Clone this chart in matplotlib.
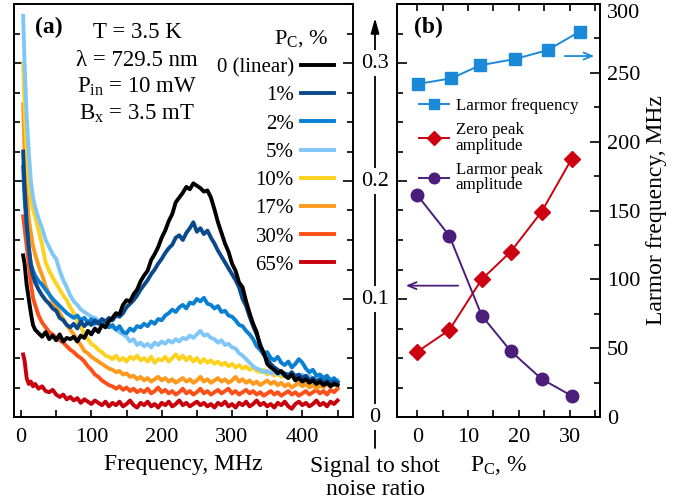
import numpy as np
import matplotlib
matplotlib.use("Agg")
import matplotlib.pyplot as plt
from matplotlib.ticker import MultipleLocator

plt.rcParams['font.family'] = ['Liberation Serif', 'DejaVu Serif']
plt.rcParams['mathtext.fontset'] = 'custom'
plt.rcParams['mathtext.rm'] = 'Liberation Serif'
plt.rcParams['mathtext.it'] = 'Liberation Serif:italic'
plt.rcParams['axes.linewidth'] = 1.4

# ---- panel (a): noise spectra, SNR in units of 1e-3 ----
freq = np.concatenate([[3, 5, 8, 11, 14, 17, 20], np.arange(25, 455, 5)])

snr_0 = [137, 130, 112, 100, 88, 78, 74,
         71, 68, 72, 66, 69, 65, 70, 64, 67, 66,
         68, 64, 69, 67, 73, 70, 75, 72, 78, 76,
         81, 84, 88, 87, 95, 99, 98, 104, 108, 115,
         120, 124, 133, 138, 144, 152, 158, 166, 172, 182,
         186, 190, 195, 193, 198, 196, 194, 191, 192, 186,
         176, 165, 156, 147, 140, 130, 124, 114, 110, 98,
         88, 79, 72, 60, 55, 45, 42, 40, 37, 39,
         35, 33, 36, 31, 33, 30, 32, 29, 31, 28,
         30, 27, 29, 26, 28, 27]
snr_1 = [225, 195, 165, 145, 128, 120, 114,
         108, 103, 99, 96, 92, 90, 84, 82, 78, 76,
         79, 75, 81, 77, 80, 78, 82, 79, 83, 81,
         84, 82, 86, 85, 88, 93, 96, 99, 103, 108,
         112, 116, 121, 125, 130, 134, 139, 143, 146, 152,
         154, 150, 156, 160, 165, 157, 160, 155, 158, 152,
         147, 141, 136, 131, 126, 121, 116, 110, 100, 94,
         85, 77, 70, 62, 53, 49, 45, 42, 40, 38,
         37, 35, 38, 34, 36, 33, 35, 31, 33, 30,
         32, 29, 31, 28, 30, 29]
snr_2 = [212, 185, 160, 142, 130, 124, 120,
         115, 112, 108, 104, 100, 97, 94, 91, 88, 86,
         84, 86, 82, 84, 80, 83, 79, 81, 78, 80,
         76, 78, 74, 77, 72, 71, 75, 73, 77, 76,
         79, 77, 81, 79, 83, 82, 86, 88, 91, 89,
         93, 95, 92, 97, 96, 100, 98, 101, 96, 95,
         92, 94, 89, 90, 86, 85, 82, 78, 77, 73,
         70, 66, 60, 57, 53, 55, 50, 48, 51, 46,
         44, 47, 42, 45, 49, 46, 41, 38, 40, 35,
         36, 33, 35, 31, 33, 30]
snr_5 = [340, 300, 255, 225, 200, 186, 178,
         168, 160, 150, 144, 138, 134, 124, 116, 110, 103,
         98, 95, 91, 89, 87, 85, 84, 82, 80, 79,
         77, 76, 74, 72, 70, 68, 64, 66, 61, 63,
         60, 62, 59, 63, 61, 64, 62, 65, 63, 66,
         64, 67, 66, 69, 67, 70, 73, 69, 70, 67,
         66, 63, 65, 61, 62, 59, 58, 54, 52, 49,
         46, 43, 41, 40, 38, 39, 37, 38, 36, 37,
         35, 37, 35, 36, 34, 36, 33, 35, 32, 34,
         31, 33, 30, 32, 30, 31]
snr_10 = [300, 265, 225, 200, 185, 176, 170,
          158, 146, 131, 124, 118, 113, 108, 103, 99, 93,
          88, 82, 76, 71, 66, 62, 60, 57, 55, 52,
          51, 49, 52, 48, 50, 47, 51, 49, 52, 48,
          50, 47, 51, 46, 49, 48, 51, 47, 50, 53,
          49, 52, 48, 51, 47, 50, 46, 49, 46, 48,
          45, 47, 44, 46, 43, 45, 42, 44, 41, 43,
          40, 42, 39, 38, 40, 36, 38, 35, 37, 34,
          36, 33, 35, 32, 34, 31, 33, 30, 32, 30,
          31, 29, 32, 30, 31, 29]
snr_17 = [265, 225, 190, 168, 156, 145, 138,
          128, 120, 111, 104, 98, 93, 88, 83, 78, 74,
          70, 65, 61, 56, 54, 51, 49, 47, 45, 43,
          41, 40, 38, 39, 36, 37, 34, 35, 32, 34,
          31, 33, 30, 32, 34, 31, 33, 30, 32, 29,
          31, 33, 30, 32, 29, 31, 34, 30, 32, 29,
          31, 33, 30, 32, 29, 31, 34, 30, 32, 29,
          31, 28, 30, 27, 29, 31, 28, 30, 27, 29,
          26, 28, 25, 27, 29, 26, 28, 25, 27, 24,
          27, 25, 28, 26, 28, 26]
snr_30 = [170, 160, 145, 130, 113, 101, 95,
          86, 80, 76, 72, 70, 67, 65, 63, 60, 57,
          55, 52, 50, 47, 43, 40, 36, 34, 31, 29,
          27, 26, 24, 26, 23, 25, 22, 24, 21, 23,
          21, 24, 20, 22, 25, 21, 23, 20, 22, 19,
          21, 24, 20, 22, 19, 21, 24, 20, 22, 19,
          21, 23, 20, 22, 24, 20, 22, 19, 21, 23,
          20, 22, 19, 21, 18, 20, 22, 19, 21, 18,
          20, 22, 19, 21, 18, 20, 22, 19, 21, 23,
          20, 22, 19, 23, 21, 24]
snr_65 = [53, 48, 33, 28, 30, 26, 28,
          24, 26, 22, 21, 23, 19, 17, 19, 15, 17,
          14, 16, 12, 15, 13, 11, 14, 12, 10, 13,
          9, 12, 10, 13, 9, 11, 14, 10, 8, 12,
          10, 13, 9, 11, 8, 12, 10, 13, 9, 11,
          14, 10, 12, 9, 11, 13, 10, 12, 9, 11,
          8, 12, 10, 13, 9, 11, 8, 12, 10, 13,
          9, 11, 14, 10, 12, 9, 11, 8, 12, 10,
          13, 9, 7, 11, 13, 10, 12, 9, 11, 14,
          10, 12, 9, 13, 11, 14]

spectra = [snr_0, snr_1, snr_2, snr_5, snr_10, snr_17, snr_30, snr_65]
spec_labels = ['0 (linear)', '1%', '2%', '5%', '10%', '17%', '30%', '65%']
spec_colors = ['#000000', '#0a4a8c', '#0a80d2', '#80c6f8',
               '#fcd21e', '#fd9a1e', '#fc5018', '#c8000c']

# ---- panel (b) ----
pc_freq = [0.2, 6.7, 12.4, 19.2, 25.7, 32.0]
larmor_freq = [242, 246, 255.5, 260, 266.5, 280]
pc_amp = [0, 6.3, 12.7, 18.4, 24.5, 30.4]
zero_amp = [0.0553, 0.0737, 0.1167, 0.140, 0.174, 0.2186]
larmor_amp = [0.188, 0.1537, 0.0859, 0.0559, 0.0322, 0.018]

snr_ticks = [0, 0.1, 0.2, 0.3]
snr_ticklabels = ['0', '0.1', '0.2', '0.3']
mhz_ticks = [0, 50, 100, 150, 200, 250, 300]

W, H = 689, 501
fig = plt.figure(figsize=(W / 100, H / 100), dpi=100)
bot = (H - 417) / H
hgt = (417 - 4) / H

def style_snr_axis(ax):
    ax.set_ylim(0, 0.35)
    ax.yaxis.set_major_locator(MultipleLocator(0.1))
    ax.yaxis.set_minor_locator(MultipleLocator(0.025))
    ax.tick_params(axis='y', which='major', direction='in', length=7, width=1.2,
                   labelleft=False, labelright=False)
    ax.tick_params(axis='y', which='minor', direction='in', length=4.5, width=1.2)

# panel (a)
ax_a = fig.add_axes([14 / W, bot, (353 - 14) / W, hgt])
handles = []
for vals, lab, col in zip(spectra, spec_labels, spec_colors):
    h, = ax_a.plot(freq, np.array(vals) / 1000.0, color=col, lw=2.8, label=lab)
    handles.append(h)
for h, z in zip(handles, range(len(handles), 0, -1)):
    h.set_zorder(z)
ax_a.set_xlim(-10, 472)
style_snr_axis(ax_a)
ax_a.tick_params(axis='y', which='both', left=True, right=True)
ax_a.xaxis.set_minor_locator(MultipleLocator(50))
ax_a.set_xticks([0, 100, 200, 300, 400])
ax_a.tick_params(axis='x', which='both', direction='in', length=5, width=1.2,
                 labelsize=16, pad=8)
ax_a.set_xlabel('Frequency, MHz', fontsize=17, labelpad=5)

ax_a.text(0.063, 0.930, '(a)', transform=ax_a.transAxes, fontsize=17,
          fontweight='bold', va='baseline')
info = ['T = 3.5 K', 'λ = 729.5 nm', r'P$_{\mathrm{in}}$ = 10 mW',
        r'B$_{\mathrm{x}}$ = 3.5 mT']
for txt, yb in zip(info, [38, 66, 93, 120]):
    ax_a.text(0.363, (417 - yb) / 413, txt, transform=ax_a.transAxes,
              fontsize=16.5, ha='center', va='baseline')

leg_a = ax_a.legend(handles=handles, loc='upper right',
                    bbox_to_anchor=(0.97, 0.962), frameon=False,
                    markerfirst=False, fontsize=15,
                    title=r'P$_{\mathrm{C}}$, %  ', title_fontsize=16,
                    alignment='right', handlelength=1.6, handletextpad=0.35,
                    labelspacing=0.415, borderpad=0.4, borderaxespad=0)

# middle axis
ax_m = fig.add_axes([375 / W - 0.001, bot, 0.002, hgt])
ax_m.set_ylim(0, 0.35)
ax_m.axis('off')
ax_m.annotate('', xy=(0.5, 0.966), xycoords='axes fraction',
              xytext=(0.5, -0.075), textcoords='axes fraction',
              arrowprops=dict(arrowstyle='-|>,head_length=0.9,head_width=0.25',
                              color='black', lw=1.3, shrinkA=0, shrinkB=0),
              annotation_clip=False, zorder=2)
for v, lab in zip(snr_ticks, snr_ticklabels):
    ax_m.text(0.5, v, lab, transform=ax_m.get_yaxis_transform(), fontsize=16,
              ha='center', va='center', zorder=5,
              bbox=dict(fc='white', ec='none', pad=2.5))
ax_m.text(0.5, -0.095, 'Signal to shot\nnoise ratio', transform=ax_m.transAxes,
          fontsize=17, ha='center', va='top', linespacing=1.1)

# panel (b)
ax_b = fig.add_axes([397 / W, bot, (600 - 397) / W, hgt])
ax_r = ax_b.twinx()
l_zero, = ax_b.plot(pc_amp, zero_amp, color='#cc0010', lw=1.4, marker='D',
                    ms=8, label='Zero peak\namplitude')
l_lamp, = ax_b.plot(pc_amp, larmor_amp, color='#4a1e7a', lw=1.4, marker='o',
                    ms=9, label='Larmor peak\namplitude')
l_freq, = ax_r.plot(pc_freq, larmor_freq, color='#1a8ad8', lw=1.4, marker='s',
                    ms=8.5, label='Larmor frequency')
ax_b.set_xlim(-4, 36)
style_snr_axis(ax_b)
ax_b.set_xticks([0, 10, 20, 30])
ax_b.xaxis.set_minor_locator(MultipleLocator(5))
ax_b.tick_params(axis='x', which='both', direction='in', length=5, width=1.2,
                 top=True, labelsize=16, pad=8)
ax_b.set_xlabel(r'P$_{\mathrm{C}}$, %', fontsize=17, labelpad=5)

ax_r.set_ylim(0, 300)
ax_r.set_yticks(mhz_ticks)
ax_r.yaxis.set_minor_locator(MultipleLocator(25))
ax_r.tick_params(axis='y', which='major', direction='in', length=7, width=1.2,
                 labelsize=16, pad=5)
ax_r.tick_params(axis='y', which='minor', direction='in', length=4.5, width=1.2)
ax_r.set_ylabel('Larmor frequency, MHz', fontsize=17, labelpad=4)
# keep the top label inside the figure, as in the original
ax_r.yaxis.get_major_ticks()[-1].label2.set_verticalalignment('top')

ax_b.text(0.085, 0.93, '(b)', transform=ax_b.transAxes, fontsize=17,
          fontweight='bold', va='baseline')

leg_b = ax_r.legend(handles=[l_freq, l_zero, l_lamp], loc='upper left',
                    bbox_to_anchor=(0.11, 0.773), frameon=False, fontsize=12.2,
                    handlelength=1.75, handletextpad=0.4, labelspacing=0.5,
                    borderpad=0, borderaxespad=0, markerscale=0.85)
for t in leg_b.get_texts():
    t.set_linespacing(0.95)

ax_b.annotate('', xy=(0.03, 0.318), xycoords='axes fraction',
              xytext=(0.315, 0.318), textcoords='axes fraction',
              arrowprops=dict(arrowstyle='->,head_length=0.6,head_width=0.25',
                              color='#4a1e7a', lw=1.3))
ax_r.annotate('', xy=(0.985, 0.874), xycoords='axes fraction',
              xytext=(0.813, 0.874), textcoords='axes fraction',
              arrowprops=dict(arrowstyle='->,head_length=0.6,head_width=0.25',
                              color='#1a8ad8', lw=1.3))

fig.savefig('out.png', dpi=100)
